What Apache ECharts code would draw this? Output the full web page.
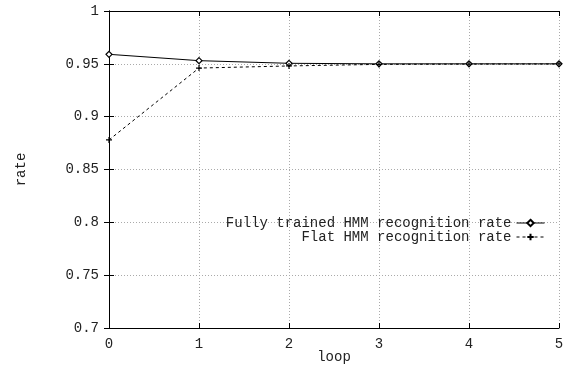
<!DOCTYPE html>
<html><head><meta charset="utf-8">
<script src="https://cdn.jsdelivr.net/npm/echarts@6/dist/echarts.min.js"></script>
<style>html,body{margin:0;padding:0;background:#fff}#c{width:568px;height:367px}</style>
</head><body><div id="c"></div>
<script>
const loops = [0, 1, 2, 3, 4, 5];
const fullyTrained = [0.959, 0.953, 0.9505, 0.9500, 0.9500, 0.9500];
const flat = [0.878, 0.946, 0.948, 0.9495, 0.9498, 0.9499];
const seriesNames = ['Fully trained HMM recognition rate', 'Flat HMM recognition rate'];

const font = 'Liberation Mono';
const fs = 14;
const chart = echarts.init(document.getElementById('c'), null, {renderer: 'canvas'});
const plus = 'path://M-1,0 L1,0 M0,-1 L0,1';
const mirrorAxis = {
  axisLine: {show: true, lineStyle: {color: '#000', width: 1}},
  axisTick: {show: true, inside: true, length: 5, lineStyle: {color: '#000'}},
  axisLabel: {show: false}, splitLine: {show: false}
};
chart.setOption({
  animation: false,
  grid: {left: 109, right: 9, top: 11, bottom: 39, show: false, containLabel: false, outerBoundsMode: 'none'},
  legend: {
    orient: 'vertical', right: 18, top: 211, align: 'right',
    itemWidth: 28, itemHeight: 8, itemGap: 0,
    lineStyle: {width: 1},
    textStyle: {fontFamily: font, fontSize: fs, color: '#222', lineHeight: 13},
    data: seriesNames
  },
  xAxis: [{
    type: 'value', min: 0, max: 5, interval: 1, position: 'bottom',
    name: 'loop', nameLocation: 'middle', nameGap: 22, nameMoveOverlap: false,
    nameTextStyle: {fontFamily: font, fontSize: fs, color: '#222'},
    axisLine: {show: true, lineStyle: {color: '#000', width: 1}},
    axisTick: {show: true, inside: true, length: 5, lineStyle: {color: '#000'}},
    axisLabel: {fontFamily: font, fontSize: fs, color: '#222', margin: 9},
    splitLine: {show: true, lineStyle: {color: '#aaa', type: [1, 2], width: 1}}
  }, Object.assign({type: 'value', min: 0, max: 5, interval: 1, position: 'top'}, mirrorAxis)],
  yAxis: [{
    type: 'value', min: 0.7, max: 1, interval: 0.05, position: 'left',
    name: 'rate', nameLocation: 'middle', nameGap: 81, nameRotate: 90, nameMoveOverlap: false,
    nameTextStyle: {fontFamily: font, fontSize: fs, color: '#222'},
    axisLine: {show: true, lineStyle: {color: '#000', width: 1}},
    axisTick: {show: true, inside: true, length: 5, lineStyle: {color: '#000'}},
    axisLabel: {fontFamily: font, fontSize: fs, color: '#222', margin: 10},
    splitLine: {show: true, lineStyle: {color: '#aaa', type: [1, 2], width: 1}}
  }, Object.assign({type: 'value', min: 0.7, max: 1, interval: 0.05, position: 'right'}, mirrorAxis)],
  series: [{
    name: seriesNames[0], type: 'line',
    data: loops.map((x, i) => [x, fullyTrained[i]]),
    symbol: 'diamond', symbolSize: 6, showSymbol: true,
    itemStyle: {color: '#fff', borderColor: '#000', borderWidth: 1.2},
    lineStyle: {color: '#000', width: 1}
  }, {
    name: seriesNames[1], type: 'line',
    data: loops.map((x, i) => [x, flat[i]]),
    symbol: plus, symbolSize: 6, showSymbol: true,
    itemStyle: {color: '#000', borderColor: '#000', borderWidth: 1.2},
    lineStyle: {color: '#000', width: 1, type: [3, 3]}
  }]
});
</script></body></html>
